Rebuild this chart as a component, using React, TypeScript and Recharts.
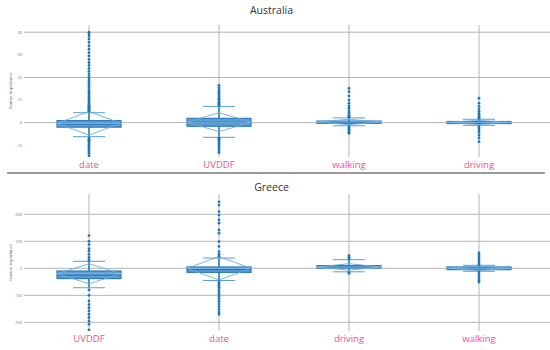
import { Bar, CartesianGrid, ComposedChart, Scatter, XAxis, YAxis } from "recharts";

// Australia panel
const auCats = ["date", "UVDDF", "walking", "driving"];
const auLowFence = [-6.2, -6.5, -1.4, -1.2];
const auQ1 = [-2.0, -1.6, -0.3, -0.4];
const auMedian = [-0.6, 0.3, 0.2, 0.1];
const auQ3 = [0.9, 1.9, 0.7, 0.5];
const auHighFence = [4.4, 7.2, 2.1, 1.5];
const auMean = [-0.3, 0.2, 0.3, 0.1];
const auSd = [5.2, 4.2, 1.2, 0.9];
const auOutliers = [
  [5.0, 5.3, 5.6, 6.0, 6.4, 6.8, 7.2, 7.7, 8.2, 8.8, 9.4, 10, 10.7, 11.4, 12.2, 13, 13.8, 14.6, 15.5, 16.4, 17.3, 18.3, 19.3, 20.4, 21.5, 22.7, 24, 25.3, 26.6, 28, 29.5, 31, 32.5, 34, 35.5, 37, 38.3, 39.2, 40,
    -6.8, -7.3, -7.8, -8.4, -9, -9.6, -10.3, -11, -11.8, -12.6, -13.5, -14.6],
  [7.6, 8.0, 8.5, 9, 9.6, 10.2, 10.8, 11.5, 12.2, 13, 13.8, 14.6, 15.5, 16.5,
    -6.9, -7.4, -8, -8.6, -9.3, -10, -10.8, -11.6, -12.4, -13.3],
  [2.4, 2.8, 3.2, 3.8, 4.4, 5.3, 6.4, 7.4, 8.6, 10, 11.8, 13.7, 15.2,
    -1.8, -2.3, -2.9, -3.6, -4.2, -4.7],
  [1.9, 2.3, 2.8, 3.4, 4.1, 5, 6, 7.2, 8.6, 10.8,
    -1.8, -2.4, -3.2, -4.2, -5.5, -6.8, -8.4],
];
const auTicks = [-10, 0, 10, 20, 30, 40];

// Greece panel
const grCats = ["UVDDF", "date", "driving", "walking"];
const grLowFence = [-72, -45, -13, -11];
const grQ1 = [-38, -15, 1, -5];
const grMedian = [-25, -4, 6, 0];
const grQ3 = [-10, 5, 10, 5];
const grHighFence = [26, 38, 32, 11];
const grMean = [-20, 0, 5, 0];
const grSd = [37, 43, 12, 8];
const grOutliers = [
  [30, 40, 52, 64, 73, 88, 100, 121,
    -80, -100, -121, -134, -146, -158, -170, -182, -195, -207, -228],
  [45, 52, 62, 81, 99, 130, 142, 167, 179, 197, 210, 234, 246,
    -50, -56, -63, -70, -78, -86, -95, -104, -113, -122, -132, -142, -152, -162, -170],
  [36, 41, 47, -16, -19],
  [14, 20, 27, 35, 43, 50, 57, -14, -20, -28, -36, -44, -51],
];
const grTicks = [-200, -100, 0, 100, 200];

const BLUE = "#1f77b4";

function BoxShape(props: any) {
  const { x, y, width, height, payload } = props;
  const [lo, hi] = payload.range;
  const py = (v: number) => y + ((hi - v) / (hi - lo)) * height;
  const cx = x + width / 2;
  const bw = 32;
  const cw = 16;
  const yMean = py(payload.mean);
  const yTop = py(payload.mean + payload.sd);
  const yBot = py(payload.mean - payload.sd);
  return (
    <g>
      <line x1={cx} x2={cx} y1={py(hi)} y2={py(lo)} stroke={BLUE} strokeWidth={1.5} />
      <line x1={cx - cw} x2={cx + cw} y1={py(hi)} y2={py(hi)} stroke="#5b9fd6" strokeWidth={1} />
      <line x1={cx - cw} x2={cx + cw} y1={py(lo)} y2={py(lo)} stroke="#5b9fd6" strokeWidth={1} />
      <rect
        x={cx - bw}
        y={py(payload.q3)}
        width={bw * 2}
        height={Math.max(1.5, py(payload.q1) - py(payload.q3))}
        fill="#5e9cd2"
        stroke="#2f7dbd"
        strokeWidth={1.2}
      />
      <line x1={cx - bw} x2={cx + bw} y1={py(payload.median)} y2={py(payload.median)} stroke="#2a78b8" strokeWidth={1.5} />
      <polyline
        points={`${cx - bw},${yMean} ${cx},${yTop} ${cx + bw},${yMean} ${cx},${yBot} ${cx - bw},${yMean}`}
        fill="none"
        stroke="#6aaade"
        strokeWidth={0.9}
      />
      <line x1={cx - bw} x2={cx + bw} y1={yMean} y2={yMean} stroke="#8dbfe6" strokeWidth={0.8} />
    </g>
  );
}

function Dot(p: any) {
  return <circle cx={p.cx} cy={p.cy} r={1.4} fill={BLUE} />;
}

type PanelProps = {
  cats: string[];
  low: number[];
  q1: number[];
  median: number[];
  q3: number[];
  high: number[];
  mean: number[];
  sd: number[];
  outliers: number[][];
  ticks: number[];
  domain: [number, number];
  height: number;
  top: number;
  bottom: number;
};

function BoxPanel(p: PanelProps) {
  const rows = p.cats.map((cat, i) => ({
    cat,
    range: [p.low[i], p.high[i]],
    q1: p.q1[i],
    median: p.median[i],
    q3: p.q3[i],
    mean: p.mean[i],
    sd: p.sd[i],
  }));
  const points = p.cats.flatMap((cat, i) => p.outliers[i].map((v) => ({ cat, v })));

  return (
    <ComposedChart width={550} height={p.height} data={rows} margin={{ top: p.top, right: 0, bottom: 0, left: 0 }}>
      <CartesianGrid stroke="#b5b5b5" strokeWidth={1} horizontalValues={p.ticks} verticalValues={p.cats} />
      <XAxis
        dataKey="cat"
        type="category"
        allowDuplicatedCategory={false}
        height={p.bottom}
        padding={{ left: 0, right: 6 }}
        axisLine={false}
        tickLine={false}
        tickSize={2}
        tickMargin={2}
        tick={{ fill: "#e8558c", fontSize: 9.5, fontFamily: "Open Sans" }}
      />
      <YAxis
        type="number"
        domain={p.domain}
        allowDataOverflow
        ticks={p.ticks}
        width={24}
        axisLine={false}
        tickLine={false}
        tickSize={0}
        tickMargin={2}
        tick={{ fill: "#777", fontSize: 4, fontFamily: "Open Sans" }}
        label={{
          value: "Feature Importance",
          angle: -90,
          position: "insideLeft",
          offset: 11,
          style: { textAnchor: "middle", fontSize: 4, fill: "#555", fontFamily: "Open Sans" },
        }}
      />
      <Bar dataKey="range" shape={BoxShape} isAnimationActive={false} />
      <Scatter data={points} dataKey="v" shape={Dot} isAnimationActive={false} />
    </ComposedChart>
  );
}

export default function App() {
  const title = {
    position: "absolute" as const,
    left: 0,
    width: 543,
    textAlign: "center" as const,
    fontFamily: "Open Sans",
    fontSize: 10.5,
    color: "#333",
  };
  return (
    <div style={{ position: "absolute", left: 0, top: 0, width: 550, height: 350, background: "#fff" }}>
      <div style={{ ...title, top: 3 }}>Australia</div>
      <div style={{ position: "absolute", left: 0, top: 0 }}>
        <BoxPanel
          cats={auCats}
          low={auLowFence}
          q1={auQ1}
          median={auMedian}
          q3={auQ3}
          high={auHighFence}
          mean={auMean}
          sd={auSd}
          outliers={auOutliers}
          ticks={auTicks}
          domain={[-15.2, 43.2]}
          height={170}
          top={25}
          bottom={13}
        />
      </div>
      <div style={{ position: "absolute", left: 7, top: 171.5, width: 538, height: 2, background: "#9a9a9a" }} />
      <div style={{ ...title, top: 180 }}>Greece</div>
      <div style={{ position: "absolute", left: 0, top: 175 }}>
        <BoxPanel
          cats={grCats}
          low={grLowFence}
          q1={grQ1}
          median={grMedian}
          q3={grQ3}
          high={grHighFence}
          mean={grMean}
          sd={grSd}
          outliers={grOutliers}
          ticks={grTicks}
          domain={[-232, 275]}
          height={175}
          top={19}
          bottom={19}
        />
      </div>
    </div>
  );
}
